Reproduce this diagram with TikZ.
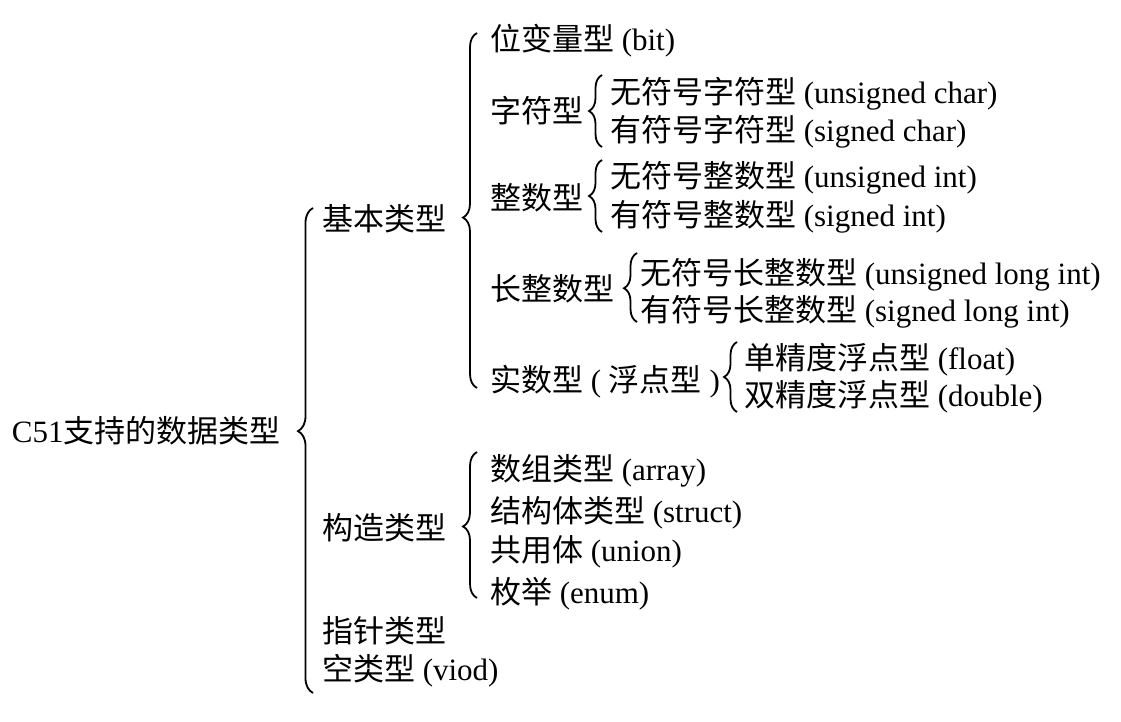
\documentclass[tikz,border=0pt]{standalone}
\usepackage{fontspec}
\setmainfont{Liberation Serif}
\newfontfamily\cjk{Noto Sans CJK SC}
\usetikzlibrary{decorations.pathreplacing}
\tikzset{
  lbl/.style={anchor=base west, inner sep=0pt, outer sep=0pt, font=\fontsize{31}{36}\selectfont},
  brc/.style={line width=1.8pt, decorate, decoration={brace, amplitude=#1}},
  brc/.default=13pt
}
\begin{document}
\begin{tikzpicture}[x=1pt,y=-1pt]
\useasboundingbox (0,0) rectangle (1121,722);
% texts
\node[lbl] (c51) at (12,442) {C51{\cjk 支持的数据类型}};
\node[lbl] (jb) at (322,230) {\cjk 基本类型};
\node[lbl] (gz) at (322,539) {\cjk 构造类型};
\node[lbl] (zz) at (322,642) {\cjk 指针类型};
\node[lbl] (kong) at (322,680) {{\cjk 空类型} (viod)};
\node[lbl] (bit) at (490,51) {{\cjk 位变量型} (bit)};
\node[lbl] (zf) at (490,123) {\cjk 字符型};
\node[lbl] (uc) at (610,104) {{\cjk 无符号字符型} (unsigned char)};
\node[lbl] (sc) at (610,142) {{\cjk 有符号字符型} (signed char)};
\node[lbl] (zs) at (490,210) {\cjk 整数型};
\node[lbl] (ui) at (610,188) {{\cjk 无符号整数型} (unsigned int)};
\node[lbl] (si) at (610,226) {{\cjk 有符号整数型} (signed int)};
\node[lbl] (czs) at (490,300) {\cjk 长整数型};
\node[lbl] (uli) at (640,284) {{\cjk 无符号长整数型} (unsigned long int)};
\node[lbl] (sli) at (640,321) {{\cjk 有符号长整数型} (signed long int)};
\node[lbl] (ss) at (490,391) {{\cjk 实数型} ( {\cjk 浮点型} )};
\node[lbl] (fl) at (744,369) {{\cjk 单精度浮点型} (float)};
\node[lbl] (db) at (744,406) {{\cjk 双精度浮点型} (double)};
\node[lbl] (arr) at (490,480) {{\cjk 数组类型} (array)};
\node[lbl] (st) at (490,522) {{\cjk 结构体类型} (struct)};
\node[lbl] (un) at (490,561) {{\cjk 共用体} (union)};
\node[lbl] (en) at (490,603) {{\cjk 枚举} (enum)};
% brace end points
\coordinate (b0t) at (313,208); \coordinate (b0b) at (313,693);
\coordinate (b1t) at (477,33);  \coordinate (b1b) at (477,388);
\coordinate (b2t) at (477,452); \coordinate (b2b) at (477,598);
\coordinate (b3t) at (602,75);  \coordinate (b3b) at (602,147);
\coordinate (b4t) at (602,160); \coordinate (b4b) at (602,232);
\coordinate (b5t) at (637,253); \coordinate (b5b) at (637,322);
\coordinate (b6t) at (737,342); \coordinate (b6b) at (737,412);
% braces
\draw[brc=15pt, decoration={aspect=0.54}] (b0b) -- (b0t);
\draw[brc=14pt, decoration={aspect=0.48}] (b1b) -- (b1t);
\draw[brc=14pt, decoration={aspect=0.49}] (b2b) -- (b2t);
\draw[brc] (b3b) -- (b3t);
\draw[brc] (b4b) -- (b4t);
\draw[brc, decoration={aspect=0.49}] (b5b) -- (b5t);
\draw[brc] (b6b) -- (b6t);
\end{tikzpicture}
\end{document}
